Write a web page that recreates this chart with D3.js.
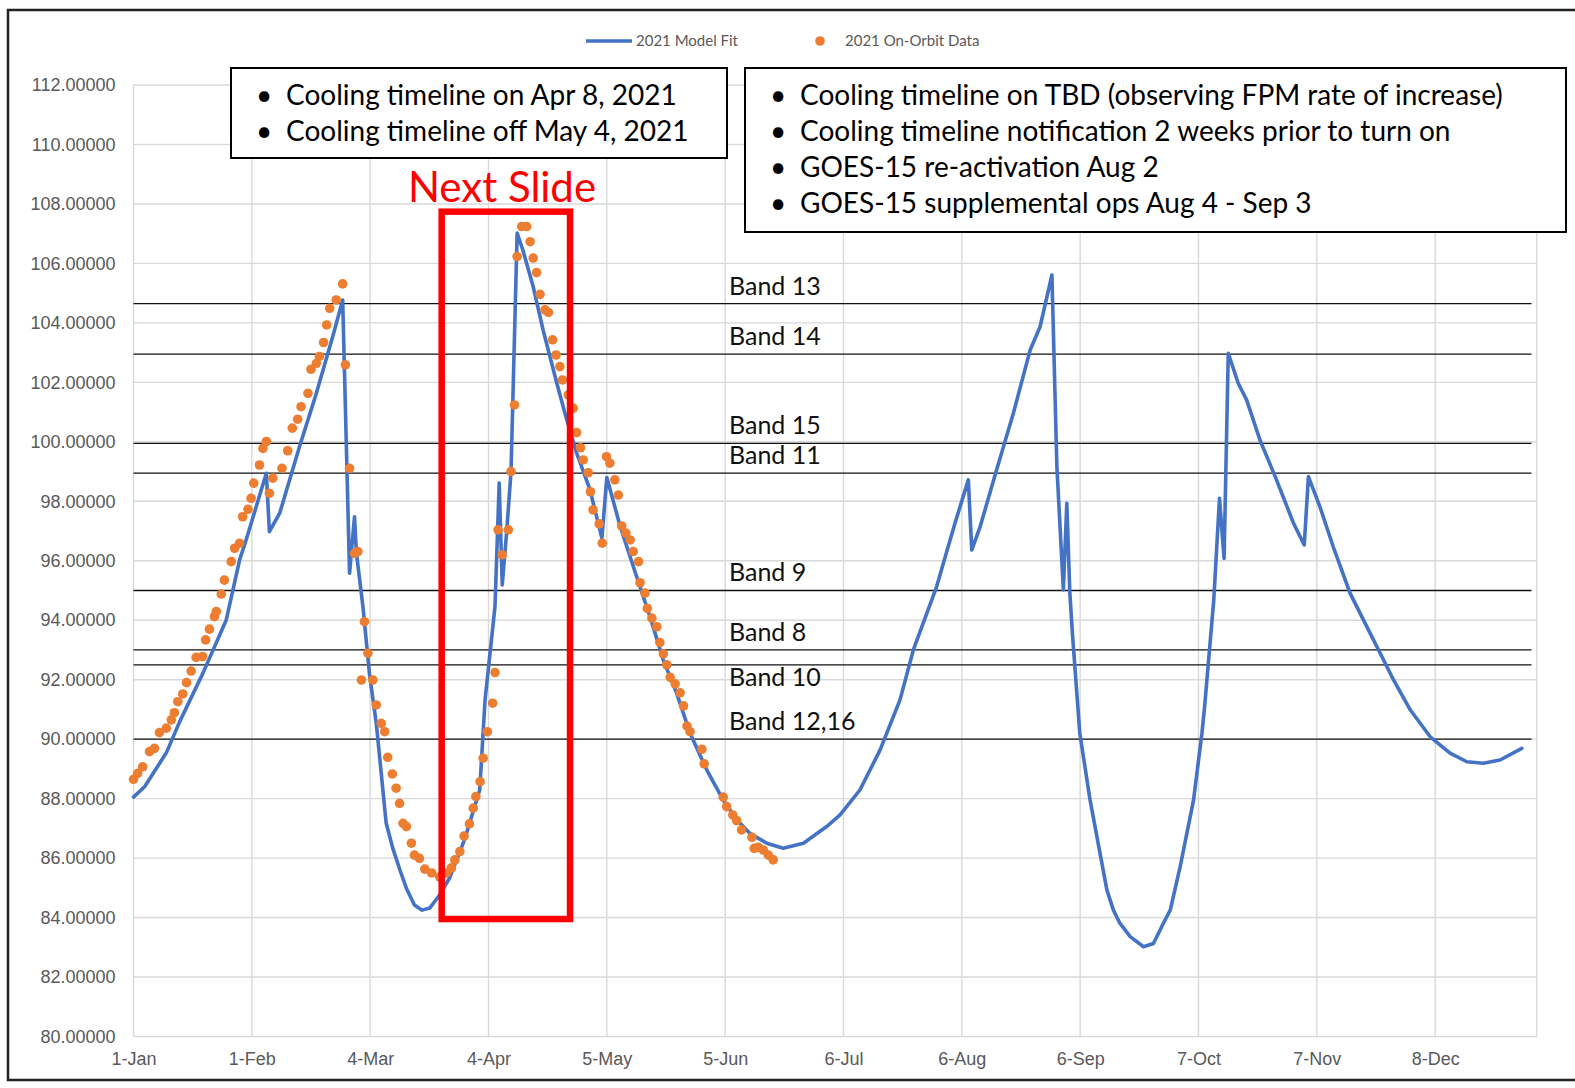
<!DOCTYPE html>
<html lang="en">
<head>
  <meta charset="UTF-8">
  <title>2021 FPM Model Fit vs On-Orbit Data</title>
  <script src="https://d3js.org/d3.v7.min.js"></script>
  <style>
    html, body { margin: 0; padding: 0; background: #fff; overflow: hidden; }
    svg { font-family: Lato, "Open Sans", sans-serif; }
    .axis text { fill: #595959; font-size: 18px; }
    .axis .domain { display: none; }
    .grid line { stroke: #d9d9d9; stroke-width: 1.4; }
  </style>
</head>
<body>
<div id="chart"></div>

<script>
  // x tick positions (days since 1-Jan-2021, 31 day steps) and their labels
  const tickDays = [0, 31, 62, 93, 124, 155, 186, 217, 248, 279, 310, 341];
  const tickLabels = ["1-Jan", "1-Feb", "4-Mar", "4-Apr", "5-May", "5-Jun",
                      "6-Jul", "6-Aug", "6-Sep", "7-Oct", "7-Nov", "8-Dec"];
  const yTicks = d3.range(80, 112.1, 2);

  // 2021 Model Fit: [day, value]
  const modelFit = [
    [0, 88.05], [2.9, 88.40], [8.6, 89.54], [12.1, 90.59], [18.2, 92.22], [24.3, 94.01],
    [27.8, 96.03], [29.5, 96.70], [34.8, 98.94], [35.6, 96.98], [38.3, 97.60], [43.5, 99.84],
    [47.9, 101.63], [52.2, 103.54], [54.8, 104.77], [56.6, 95.58], [57.9, 97.48], [58.4, 96.26],
    [60.1, 94.46], [61.8, 92.22], [63.6, 90.53], [66.2, 87.17], [68.0, 86.30], [69.8, 85.60],
    [71.6, 84.95], [73.6, 84.42], [75.6, 84.25], [77.6, 84.32], [80.2, 84.76], [82.8, 85.33],
    [86.7, 86.61], [90.7, 88.29], [92.1, 91.32],
    [94.7, 94.46], [95.8, 98.61], [96.6, 95.19], [97.8, 97.04], [98.9, 99.00], [100.5, 107.02],
    [102.0, 106.45], [104.7, 105.22], [107.3, 103.76], [110.9, 101.97], [113.5, 100.74],
    [116.1, 99.62], [119.6, 98.38], [122.7, 96.76], [124.0, 98.80], [127.5, 97.15],
    [131.8, 95.47], [135.3, 94.12], [138.8, 92.66], [142.3, 91.54], [145.8, 90.20],
    [150.2, 88.96], [154.5, 87.95], [158.0, 87.30], [161.5, 86.83], [165.9, 86.50], [170.2, 86.33],
    [175.5, 86.50], [181.6, 87.06], [185.1, 87.45], [190.3, 88.29], [195.6, 89.64],
    [200.8, 91.32], [204.3, 93.00], [210.4, 95.13], [215.2, 97.26], [218.7, 98.72],
    [219.6, 96.36], [221.8, 97.15], [226.1, 99.05], [230.5, 100.96], [234.9, 103.09],
    [237.5, 103.87], [240.6, 105.61], [241.9, 99.17], [243.6, 95.02], [244.5, 97.93],
    [245.3, 94.90], [246.0, 93.50], [247.9, 90.20], [250.6, 87.95], [253.0, 86.30], [255.0, 84.93],
    [256.7, 84.25], [258.4, 83.81], [261.1, 83.36], [264.6, 83.02], [267.2, 83.13], [269.8, 83.81],
    [271.6, 84.25], [274.2, 85.71], [277.7, 87.95], [279.9, 90.20], [280.6, 91.09], [283.0, 94.68],
    [284.5, 98.10], [285.7, 96.08], [286.8, 102.98], [289.4, 101.97], [291.6, 101.41],
    [295.1, 100.06], [299.1, 98.83], [303.9, 97.26], [306.7, 96.53], [307.8, 98.83],
    [310.8, 97.82], [314.3, 96.47], [318.7, 94.91], [322.2, 94.01], [326.6, 92.89],
    [330.1, 91.99], [334.5, 90.98], [339.7, 90.08], [344.9, 89.53], [349.3, 89.24],
    [353.6, 89.19], [358.0, 89.30], [363.7, 89.69]
  ];

  // 2021 On-Orbit Data: [day, value]
  const onOrbit = [
    [0, 88.65], [1.1, 88.85], [2.4, 89.07], [4.2, 89.58], [5.5, 89.69], [6.8, 90.22],
    [8.6, 90.37], [9.9, 90.65], [10.7, 90.89], [11.6, 91.26], [12.9, 91.52], [13.9, 91.90],
    [15.1, 92.29], [16.4, 92.75], [18.1, 92.78], [18.9, 93.34], [19.9, 93.70], [21.2, 94.12],
    [21.7, 94.29], [23.0, 94.88], [23.8, 95.35], [25.6, 95.97], [26.5, 96.42], [27.8, 96.59],
    [28.6, 97.48], [30.0, 97.73], [30.8, 98.10], [31.5, 98.61], [33.0, 99.22], [33.9, 99.78],
    [34.8, 100.01], [35.6, 98.27], [36.5, 98.78], [38.9, 99.11], [40.4, 99.70], [41.6, 100.46],
    [43.0, 100.76], [43.9, 101.18], [45.7, 101.63], [46.5, 102.44], [47.9, 102.64],
    [48.7, 102.87], [49.8, 103.34], [50.6, 103.93], [51.4, 104.49], [53.1, 104.77],
    [54.8, 105.31], [55.5, 102.59], [56.6, 99.11], [57.9, 96.25], [58.8, 96.31],
    [59.7, 91.99], [60.5, 93.95], [61.4, 92.89], [62.7, 91.99], [63.6, 91.15], [64.9, 90.53],
    [65.8, 90.25], [66.6, 89.39], [67.8, 88.83], [68.8, 88.35], [69.7, 87.84], [70.6, 87.17],
    [71.5, 87.06], [72.8, 86.50], [73.6, 86.10], [74.9, 85.99], [76.3, 85.63], [78.1, 85.50],
    [80.2, 85.37], [82.0, 85.50], [83.3, 85.67], [84.2, 85.94], [85.5, 86.22], [86.6, 86.74],
    [88.0, 87.15], [89.0, 87.68], [89.7, 88.07], [90.8, 88.57], [91.6, 89.36], [92.7, 90.25],
    [94.1, 91.21], [94.7, 92.24], [95.5, 97.04], [96.6, 96.20], [98.2, 97.04], [98.9, 99.00],
    [99.8, 101.24], [100.5, 106.23], [101.7, 107.24], [103.0, 107.24], [103.9, 106.73],
    [104.7, 106.18], [105.6, 105.69], [106.5, 104.96], [107.8, 104.44], [108.7, 104.35],
    [109.8, 103.43], [110.7, 102.92], [111.7, 102.53], [112.4, 102.08], [113.9, 101.58],
    [115.2, 101.13], [116.1, 100.31], [117.1, 99.80], [117.8, 99.39], [119.1, 98.96],
    [119.7, 98.32], [120.4, 97.71], [122.0, 97.24], [122.8, 96.59], [123.9, 99.50],
    [124.8, 99.28], [126.1, 98.72], [127.0, 98.21], [127.9, 97.17], [129.0, 96.93],
    [130.1, 96.70], [130.9, 96.31], [132.3, 95.97], [132.7, 95.26], [134.0, 94.91],
    [134.6, 94.40], [135.8, 94.07], [137.1, 93.78], [137.9, 93.25], [138.8, 92.87],
    [139.7, 92.50], [140.6, 92.08], [141.9, 91.86], [143.2, 91.56], [144.1, 91.12],
    [145.0, 90.44], [145.8, 90.25], [148.9, 89.66], [149.5, 89.17], [154.5, 88.05],
    [155.4, 87.73], [157.0, 87.45], [158.0, 87.26], [159.3, 86.95], [162.0, 86.70],
    [162.6, 86.33], [163.7, 86.36], [165.0, 86.27], [166.3, 86.10], [167.6, 85.94]
  ];

  // band threshold lines
  const bandNames = ["Band 13", "Band 14", "Band 15", "Band 11", "Band 9", "Band 8", "Band 10", "Band 12,16"];
  const bandValues = [104.65, 102.95, 99.95, 98.95, 95.0, 93.0, 92.5, 90.0];

  // highlighted window ("Next Slide")
  const highlightDays = [80.74, 114.36];
  const highlightValues = [83.95, 107.74];

  const notesLeft = ["Cooling timeline on Apr 8, 2021", "Cooling timeline off May 4, 2021"];
  const notesRight = [
    "Cooling timeline on TBD (observing FPM rate of increase)",
    "Cooling timeline notification 2 weeks prior to turn on",
    "GOES-15 re-activation Aug 2",
    "GOES-15 supplemental ops Aug 4 - Sep 3"
  ];

  const width = 1575;
  const height = 1088;
  const blue = "#4472c4";
  const orange = "#ed7d31";

  const svg = d3.select("#chart")
    .append("svg")
    .attr("width", width)
    .attr("height", height);

  svg.append("rect").attr("width", width).attr("height", height).attr("fill", "#fff");

  const x = d3.scaleLinear().domain([0, 367.6]).range([133.5, 1536.7]);
  const y = d3.scaleLinear().domain([80, 112]).range([1036.5, 85]);

  // gridlines
  const grid = svg.append("g").attr("class", "grid");
  grid.selectAll(".h").data(yTicks).enter().append("line")
    .attr("x1", x.range()[0]).attr("x2", x.range()[1])
    .attr("y1", d => y(d)).attr("y2", d => y(d));
  grid.selectAll(".v").data(tickDays.concat([x.domain()[1]])).enter().append("line")
    .attr("x1", d => x(d)).attr("x2", d => x(d))
    .attr("y1", y.range()[0]).attr("y2", y.range()[1]);

  // axes (labels only)
  svg.append("g")
    .attr("class", "axis")
    .attr("transform", `translate(${x.range()[0]},0)`)
    .call(d3.axisLeft(y).tickValues(yTicks).tickFormat(d3.format(".5f")).tickSize(0).tickPadding(18));

  svg.append("g")
    .attr("class", "axis")
    .attr("transform", `translate(0,${y.range()[0]})`)
    .call(d3.axisBottom(x).tickValues(tickDays).tickFormat((d, i) => tickLabels[i]).tickSize(0).tickPadding(16));

  // band lines + labels
  const bandBelow = ["Band 10"];
  svg.append("g").selectAll("line").data(bandValues).enter().append("line")
    .attr("x1", x.range()[0]).attr("x2", 1531.5)
    .attr("y1", d => y(d)).attr("y2", d => y(d))
    .attr("stroke", "#111").attr("stroke-width", 1.3);
  svg.append("g").selectAll("text").data(bandNames).enter().append("text")
    .attr("x", 729)
    .attr("y", (d, i) => bandBelow.includes(d) ? y(bandValues[i]) + 21 : y(bandValues[i]) - 9)
    .attr("font-size", 25)
    .attr("fill", "#111")
    .text(d => d);

  // model fit line
  svg.append("path")
    .datum(modelFit)
    .attr("fill", "none")
    .attr("stroke", blue)
    .attr("stroke-width", 3.6)
    .attr("stroke-linejoin", "round")
    .attr("stroke-linecap", "round")
    .attr("d", d3.line().x(d => x(d[0])).y(d => y(d[1])));

  // on-orbit points
  svg.append("g").selectAll("circle").data(onOrbit).enter().append("circle")
    .attr("cx", d => x(d[0]))
    .attr("cy", d => y(d[1]))
    .attr("r", 4.8)
    .attr("fill", orange);

  // red highlight
  svg.append("rect")
    .attr("x", x(highlightDays[0]))
    .attr("y", y(highlightValues[1]))
    .attr("width", x(highlightDays[1]) - x(highlightDays[0]))
    .attr("height", y(highlightValues[0]) - y(highlightValues[1]))
    .attr("fill", "none")
    .attr("stroke", "#ff0000")
    .attr("stroke-width", 6.5);
  svg.append("text")
    .attr("x", 502).attr("y", 202)
    .attr("text-anchor", "middle")
    .attr("font-size", 42)
    .attr("fill", "#ff0000")
    .text("Next Slide");

  // legend
  const legend = svg.append("g").attr("font-size", 15).attr("fill", "#595959");
  legend.append("line").attr("x1", 586).attr("x2", 632).attr("y1", 41).attr("y2", 41)
    .attr("stroke", blue).attr("stroke-width", 3.6);
  legend.append("text").attr("x", 636).attr("y", 46).text("2021 Model Fit");
  legend.append("circle").attr("cx", 820).attr("cy", 41).attr("r", 4.8).attr("fill", orange);
  legend.append("text").attr("x", 845).attr("y", 46).text("2021 On-Orbit Data");

  // note boxes
  function noteBox(x0, y0, w, h, lines) {
    const g = svg.append("g");
    g.append("rect").attr("x", x0).attr("y", y0).attr("width", w).attr("height", h)
      .attr("fill", "#fff").attr("stroke", "#000").attr("stroke-width", 2);
    lines.forEach((t, i) => {
      const by = y0 + 37 + i * 36;
      g.append("text").attr("x", x0 + 25).attr("y", by).attr("font-size", 28).attr("fill", "#000").text("\u2022");
      g.append("text").attr("x", x0 + 55).attr("y", by).attr("font-size", 28).attr("fill", "#000").text(t);
    });
  }
  noteBox(231, 68, 496, 90, notesLeft);
  noteBox(745, 68, 821, 164, notesRight);

  // outer frame
  svg.append("rect")
    .attr("x", 8).attr("y", 10).attr("width", 1600).attr("height", 1070)
    .attr("fill", "none").attr("stroke", "#222").attr("stroke-width", 2.5);
</script>
</body>
</html>
